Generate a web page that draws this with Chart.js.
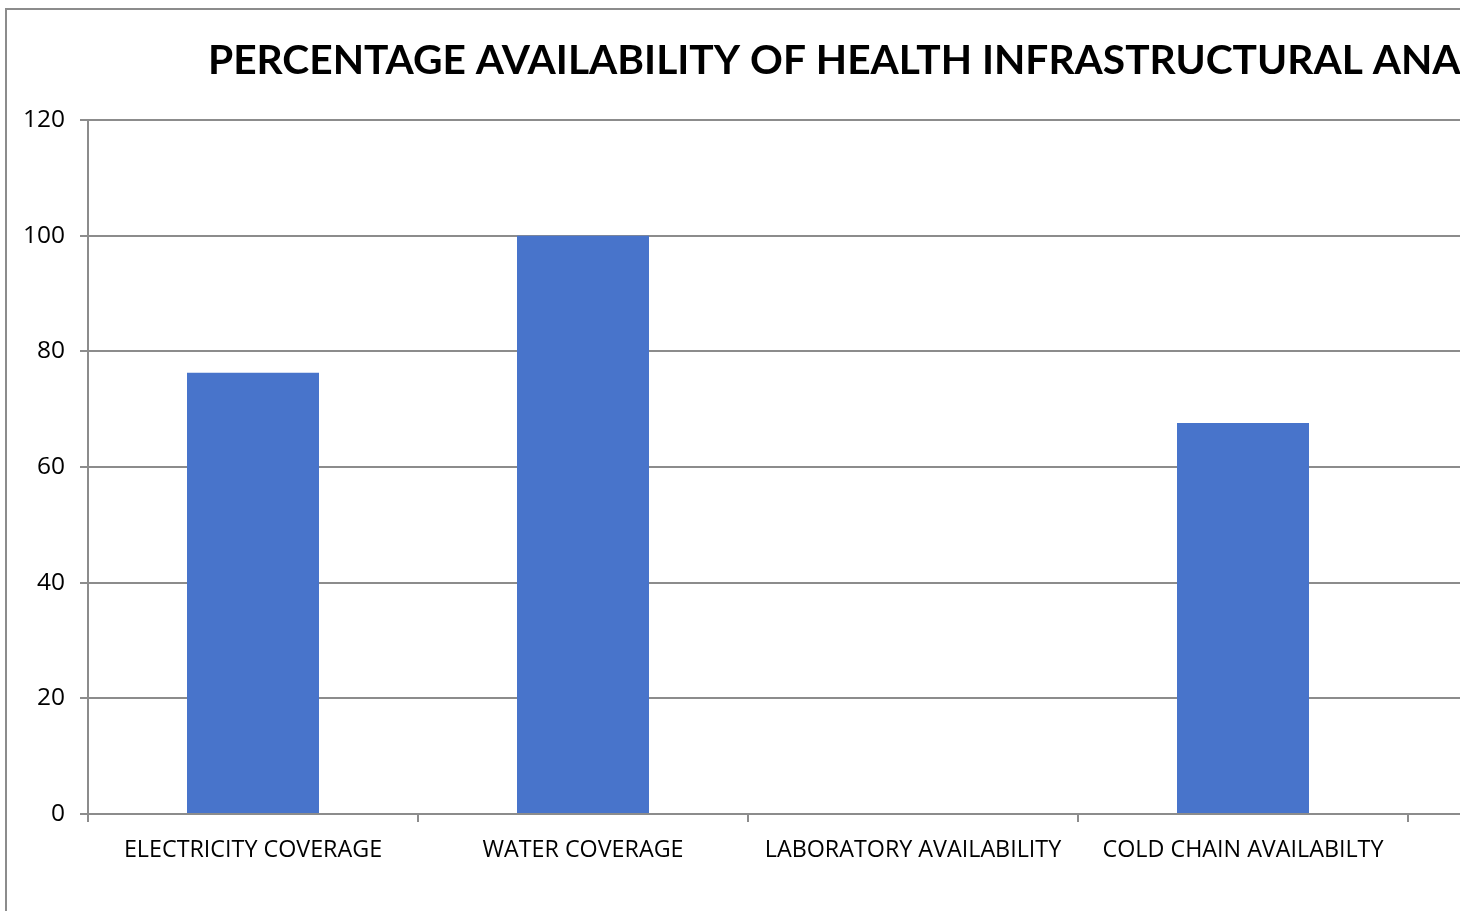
<!DOCTYPE html>
<html>
<head>
<meta charset="utf-8">
<script src="https://cdn.jsdelivr.net/npm/chart.js@4/dist/chart.umd.min.js"></script>
<style>
  html, body { margin: 0; padding: 0; background: #ffffff; overflow: hidden; width: 1460px; height: 911px; }
  #frame { position: absolute; left: 5px; top: 8px; border: 2px solid #8c8c8c; width: 1760px; height: 960px; background: #fff; }
  #chart { display: block; }
</style>
</head>
<body>
<div id="frame"><canvas id="chart" width="1760" height="960"></canvas></div>
<script>
const chartTitle = 'PERCENTAGE AVAILABILITY OF HEALTH INFRASTRUCTURAL ANALYSIS';
const categories = ['ELECTRICITY COVERAGE', 'WATER COVERAGE', 'LABORATORY AVAILABILITY', 'COLD CHAIN AVAILABILTY', ''];
const percentages = [76.3, 100, 0, 67.6, null];
const yTicks = [0, 20, 40, 60, 80, 100, 120];

const TITLE_FONT = "Lato, 'Open Sans', sans-serif";
const FONT = "'Open Sans', 'Liberation Sans', sans-serif";
const GRID = '#8c8c8c';
const W = 1760;
const H = 960;
const AXIS_WIDTH = 81;
const CATEGORY_WIDTH = 330;
const TITLE_LEFT = 201;

// Places the heading at a fixed left offset and keeps it from being squeezed
const titlePlacement = {
  id: 'titlePlacement',
  afterLayout(chart) {
    const t = chart.titleBlock;
    if (!t) return;
    t.left = TITLE_LEFT;
    t.right = TITLE_LEFT + 4000;
  }
};

function build() {
  const canvas = document.getElementById('chart');
  const ctx = canvas.getContext('2d');

  // Title size: the leading run of the heading spans 1252px
  ctx.font = "bold 50px " + TITLE_FONT;
  const lead = 'PERCENTAGE AVAILABILITY OF HEALTH INFRASTRUCTURAL ANA';
  const titleSize = Math.round(50 * 1252 / ctx.measureText(lead).width * 10) / 10;

  const plotWidth = CATEGORY_WIDTH * categories.length;
  const rightPad = W - AXIS_WIDTH - plotWidth;

  new Chart(canvas, {
    type: 'bar',
    data: {
      labels: categories,
      datasets: [{
        data: percentages,
        backgroundColor: '#4874cb',
        borderWidth: 0,
        barPercentage: 0.4,
        categoryPercentage: 1.0
      }]
    },
    options: {
      responsive: false,
      animation: false,
      layout: { padding: { left: 0, right: rightPad, top: 0, bottom: 0 } },
      plugins: {
        legend: { display: false },
        tooltip: { enabled: false },
        title: {
          display: true,
          text: chartTitle,
          align: 'start',
          color: '#000000',
          font: { family: TITLE_FONT, size: titleSize, weight: 'bold', lineHeight: 1.2 },
          padding: { top: 51 - titleSize * 0.6, bottom: 110 - (51 + titleSize * 0.6) }
        }
      },
      scales: {
        x: {
          offset: true,
          grid: {
            display: true,
            offset: true,
            drawOnChartArea: false,
            drawTicks: true,
            tickLength: 8,
            color: GRID,
            lineWidth: 2
          },
          border: { display: true, color: GRID, width: 2 },
          ticks: {
            color: '#000000',
            font: { family: FONT, size: 23.3 },
            padding: 14,
            maxRotation: 0,
            autoSkip: false
          },
          afterFit(scale) { scale.height = H - 804; }
        },
        y: {
          min: 0,
          max: 120,
          afterBuildTicks(scale) { scale.ticks = yTicks.map(v => ({ value: v })); },
          grid: {
            color: GRID,
            lineWidth: 2,
            drawTicks: true,
            tickLength: 8
          },
          border: { display: true, color: GRID, width: 2 },
          ticks: {
            color: '#000000',
            font: { family: FONT, size: 24.5 },
            padding: 15
          },
          afterFit(scale) { scale.width = AXIS_WIDTH; }
        }
      }
    },
    plugins: [titlePlacement]
  });
}

Promise.all([
  document.fonts.load("bold 50px Lato"),
  document.fonts.load("23px 'Open Sans'")
]).catch(() => {}).then(build);
</script>
</body>
</html>
